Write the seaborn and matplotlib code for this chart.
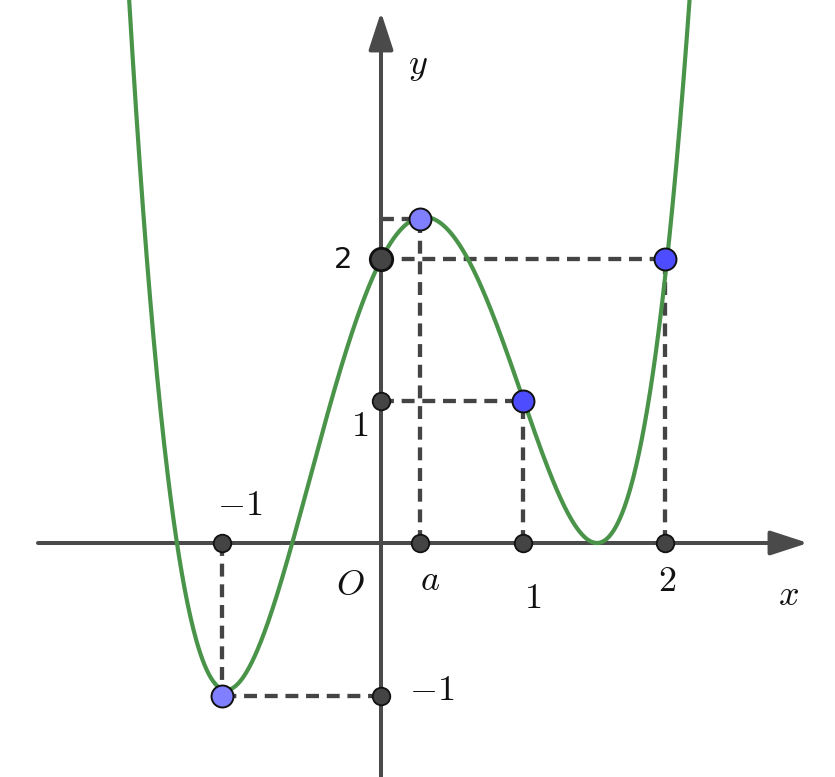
import numpy as np
import pandas as pd
import matplotlib
matplotlib.use('Agg')
import matplotlib.pyplot as plt
import seaborn as sns

# points (data units, 1 unit ~ 142 px)
curve_x = [-1.775, -1.683, -1.542, -1.444, -1.296, -1.120, -0.831, -0.634, -0.500,
           0.000, 0.275, 1.000, 1.754, 1.894, 2.007, 2.070, 2.127, 2.162]
curve_y = [3.824, 2.415, 1.007, 0.000, -0.775, -1.077, -0.613, 0.000, 0.444,
           2.000, 2.282, 1.000, 0.535, 1.007, 2.000, 2.415, 3.120, 3.824]
touch_x = 1.521  # where the curve touches the x axis

# marked points on the curve
pt_x = [-1.12, 0.275, 1.0, 2.0]
pt_y = [-1.077, 2.282, 1.0, 2.0]
pt_col = ['#7f7fff', '#7f7fff', '#4d4dff', '#4d4dff']

# tick labels
xtick_vals = [-1.12, 0.275, 1.0, 2.0]
xtick_text = ['$-1$', '$a$', '$1$', '$2$']
ytick_vals = [-1.077, 1.0, 2.0]
ytick_text = ['$-1$', '$1$', '2']

XLIM = (-381 / 142, 454 / 142)
YLIM = (-234 / 142, 543 / 142)

sns.set_theme(style='white')
plt.rcParams['mathtext.fontset'] = 'cm'
plt.rcParams['font.family'] = ['DejaVu Sans']
plt.rcParams['text.color'] = '#111111'

fig = plt.figure(figsize=(8.35, 7.77), dpi=100)
ax = fig.add_axes([0, 0, 1, 1])
ax.set_xlim(*XLIM)
ax.set_ylim(*YLIM)
ax.axis('off')

axis_col = '#4a4a4a'
dash_col = '#444444'

# axes with arrows
arr = dict(arrowstyle='-|>,head_length=2.3,head_width=0.75', mutation_scale=10,
           color=axis_col, lw=2.9, shrinkA=0, shrinkB=0)
ax.annotate('', xy=(808 / 142 - 381 / 142, 0), xytext=(38 / 142 - 381 / 142, 0), arrowprops=arr)
ax.annotate('', xy=(0, 531 / 142), xytext=(0, YLIM[0]), arrowprops=arr)

# dashed guides
dkw = dict(color=dash_col, lw=3.1, dashes=(3.0, 1.8), zorder=2)
for px, py in zip(pt_x, pt_y):
    ax.plot([0, px], [py, py], **dkw)
    ax.plot([px, px], [0, py], **dkw)

# curve: f(x) = (x - touch)^2 * g(x), g fitted to the read points
cx = np.array(curve_x)
cy = np.array(curve_y)
g = np.polyfit(cx, cy / (cx - touch_x) ** 2, 4, w=(cx - touch_x) ** 2)
xs = np.linspace(-1.80, 2.18, 800)
df = pd.DataFrame({'x': xs, 'y': np.polyval(g, xs) * (xs - touch_x) ** 2})
sns.lineplot(data=df, x='x', y='y', ax=ax, color='#4a944a', lw=3.0, zorder=3,
             sort=False, estimator=None)
ax.set_xlim(*XLIM)
ax.set_ylim(*YLIM)

# dots on axes
sns.scatterplot(x=xtick_vals, y=[0] * len(xtick_vals), ax=ax, s=160, color='#444444',
                edgecolor='#111111', linewidth=1.3, zorder=5)
sns.scatterplot(x=[0, 0], y=[ytick_vals[0], ytick_vals[1]], ax=ax, s=160,
                color='#444444', edgecolor='#111111', linewidth=1.3, zorder=5)
sns.scatterplot(x=[0], y=[2.0], ax=ax, s=260, color='#444444',
                edgecolor='#111111', linewidth=2.0, zorder=5)
for px, py, c in zip(pt_x, pt_y, pt_col):
    ax.scatter([px], [py], s=250, color=c, edgecolors='#111111', linewidths=1.4, zorder=6)

# labels
fs = 26
ax.text(xtick_vals[0] + 0.127, 0.268, xtick_text[0], fontsize=fs, ha='center', va='center')
ax.text(xtick_vals[1] + 0.07, -0.261, xtick_text[1], fontsize=fs, ha='center', va='center')
ax.text(xtick_vals[2] + 0.07, -0.387, xtick_text[2], fontsize=fs, ha='center', va='center')
ax.text(xtick_vals[3] + 0.014, -0.268, xtick_text[3], fontsize=fs, ha='center', va='center')
ax.text(0.359, ytick_vals[0] + 0.042, ytick_text[0], fontsize=fs, ha='center', va='center')
ax.text(-0.148, ytick_vals[1] - 0.176, ytick_text[1], fontsize=fs, ha='center', va='center')
ax.text(-0.268, ytick_vals[2] - 0.007, ytick_text[2], fontsize=21, ha='center', va='center')
ax.text(-0.218, -0.296, '$O$', fontsize=fs, ha='center', va='center')
ax.text(2.873, -0.366, '$x$', fontsize=fs, ha='center', va='center')
ax.text(0.261, 3.359, '$y$', fontsize=fs, ha='center', va='center')

fig.savefig('out.png', dpi=100)
